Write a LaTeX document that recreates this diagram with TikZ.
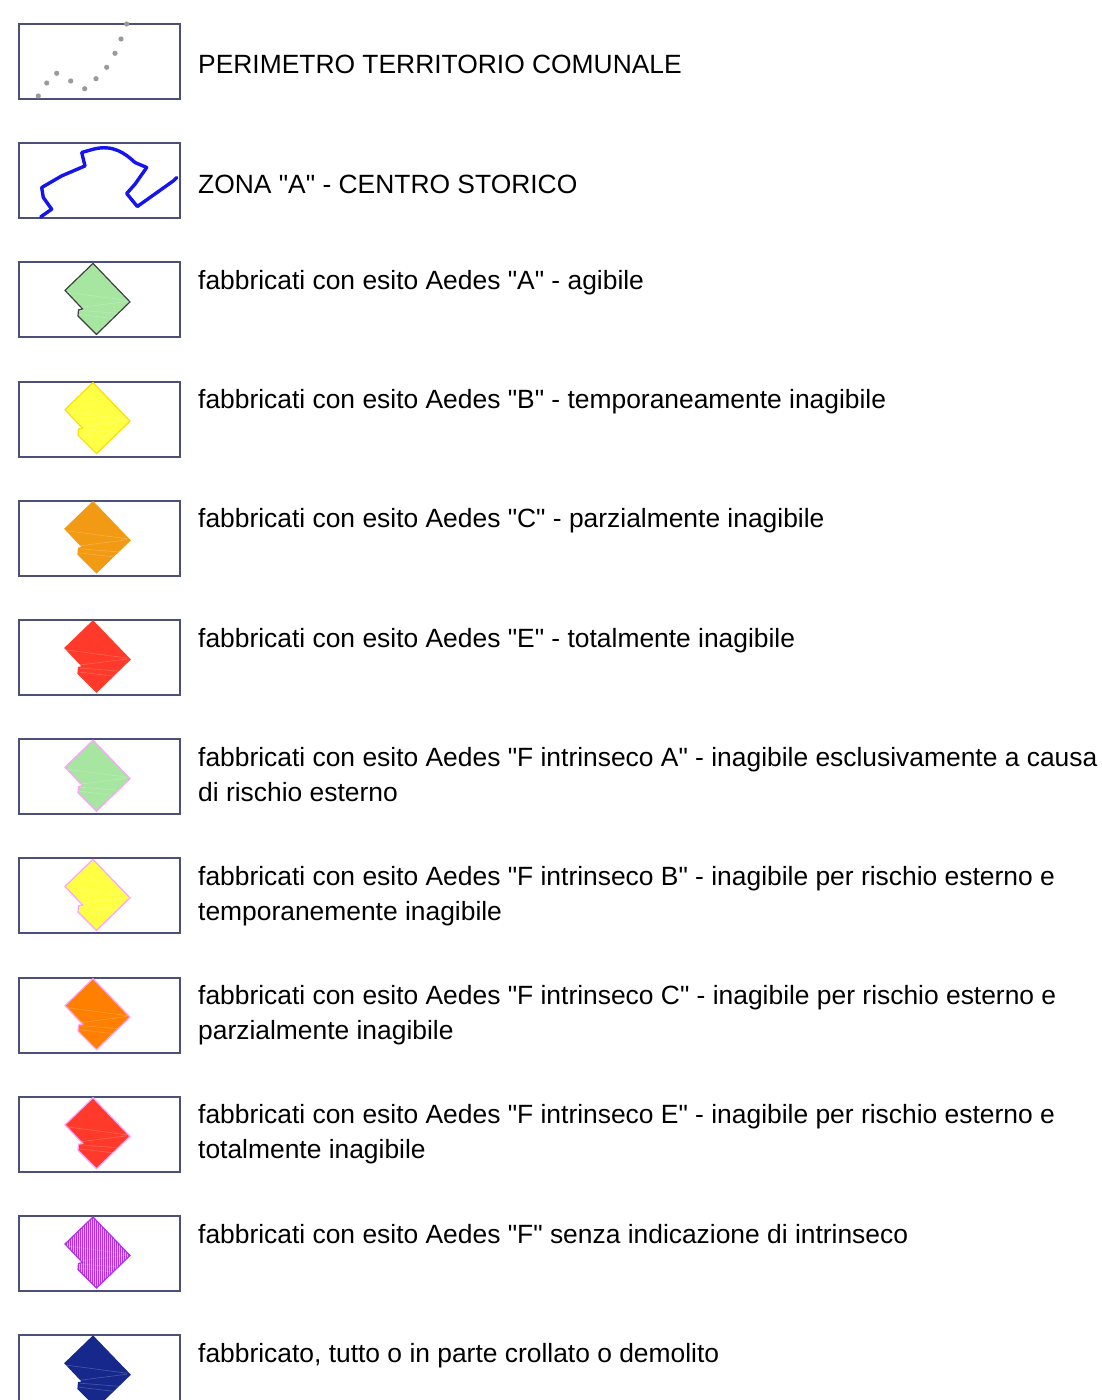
\documentclass[tikz,border=0pt]{standalone}
\usepackage{fontspec}
\setmainfont{Liberation Sans}[Ligatures=TeXOff]
\usetikzlibrary{patterns.meta}

\definecolor{cornice}{HTML}{4A5078}
\definecolor{puntini}{HTML}{9A9A9A}
\definecolor{zonaA}{HTML}{1414EE}
\definecolor{verdeA}{HTML}{A6E6A0}
\definecolor{gialloB}{HTML}{FFFF44}
\definecolor{aranC}{HTML}{F39A14}
\definecolor{rossoE}{HTML}{FF3A2A}
\definecolor{aranFC}{HTML}{FF8000}
\definecolor{rosa}{HTML}{FFA0FF}
\definecolor{violaF}{HTML}{E4A8FA}
\definecolor{violaL}{HTML}{B030E6}
\definecolor{crollo}{HTML}{16288C}

\newcommand{\sagoma}{(75,2) -- (112,40.5) -- (78.5,73) -- (60,54.5) -- (60.5,48.5) -- (64.5,47.5) -- (47,29) -- cycle}

\tikzset{
  riquadro/.style={draw=cornice, line width=2pt, minimum width=161pt,
    minimum height=75pt, inner sep=0pt, anchor=north west},
  voce/.style={anchor=base west, inner sep=0pt, align=left,
    font=\fontsize{26.4}{35}\selectfont},
  esitoA/.style={fill=verdeA, draw=black!75, line width=1.2pt},
  esitoB/.style={fill=gialloB, draw=yellow!80!orange, line width=1.2pt},
  esitoC/.style={fill=aranC, draw=aranC, line width=1.2pt},
  esitoE/.style={fill=rossoE, draw=rossoE, line width=1.2pt},
  esitoFA/.style={fill=verdeA, draw=rosa, line width=1.2pt},
  esitoFB/.style={fill=gialloB, draw=rosa, line width=1.2pt},
  esitoFC/.style={fill=aranFC, draw=rosa, line width=1.2pt},
  esitoFE/.style={fill=rossoE, draw=rosa, line width=1.2pt},
  esitoF/.style={fill=violaF, draw=violaL, line width=1.2pt,
    postaction={pattern={Lines[angle=90, distance=2pt, line width=0.9pt]},
      pattern color=violaL}},
  esitoX/.style={fill=crollo, draw=crollo, line width=1.2pt},
  tratteggio/.style={white, opacity=0.22, line width=0.6pt}
}

\begin{document}
\begin{tikzpicture}[x=1pt,y=-1pt]
    \useasboundingbox (0,0) rectangle (1102,1400);

    % perimetro comunale
    \node[riquadro] (b1) at (18,23) {};
    \begin{scope}[shift={(18,23)}]
        \foreach \px/\py in {20.3/73, 28.7/60, 38.7/50.3, 52.7/58, 66.7/65.7,
                             78/55.7, 88.7/44.3, 97/30.3, 103/16, 108.7/1}
            \fill[puntini] (\px,\py) circle (2.6pt);
    \end{scope}
    \node[voce] (t1) at (198,73.5) {PERIMETRO TERRITORIO COMUNALE};

    % zona A
    \node[riquadro] (b2) at (18,142.2) {};
    \begin{scope}[shift={(18,142.2)}]
        \draw[zonaA, line width=3.4pt, line join=round, line cap=round]
            (22.7,74.7) -- (33.7,67) -- (25.3,55.3) -- (23.7,45.3) -- (43.7,33.7)
            -- (67,23.7) -- (63.7,10.3) -- (75.3,7)
            .. controls (95,2) and (107,11) .. (117,20.3)
            -- (128.7,25.3) -- (117,42) -- (108.7,51.3) -- (119.3,64.3)
            -- (155.3,38.7) -- (158.7,35.3);
    \end{scope}
    \node[voce] (t2) at (198,193) {ZONA "A" - CENTRO STORICO};

    % esiti Aedes (\k = righe di testo)
    \foreach \n/\k/\st/\t in {
        2/1/esitoA/{fabbricati con esito Aedes "A" - agibile},
        3/1/esitoB/{fabbricati con esito Aedes "B" - temporaneamente inagibile},
        4/1/esitoC/{fabbricati con esito Aedes "C" - parzialmente inagibile},
        5/1/esitoE/{fabbricati con esito Aedes "E" - totalmente inagibile},
        6/2/esitoFA/{fabbricati con esito Aedes "F intrinseco A" - inagibile esclusivamente a causa\\di rischio esterno},
        7/2/esitoFB/{fabbricati con esito Aedes "F intrinseco B" - inagibile per rischio esterno e\\temporanemente inagibile},
        8/2/esitoFC/{fabbricati con esito Aedes "F intrinseco C" - inagibile per rischio esterno e\\parzialmente inagibile},
        9/2/esitoFE/{fabbricati con esito Aedes "F intrinseco E" - inagibile per rischio esterno e\\totalmente inagibile},
        10/1/esitoF/{fabbricati con esito Aedes "F" senza indicazione di intrinseco},
        11/1/esitoX/{fabbricato, tutto o in parte crollato o demolito}
    }
    {
        \pgfmathsetmacro{\yy}{23+119.2*\n}
        \pgfmathsetmacro{\yt}{\yy+28+35*(\k-1)}
        \node[riquadro] (b\n) at (18,\yy) {};
        \begin{scope}[shift={(18,\yy)}]
            \draw[\st] \sagoma;
            \draw[tratteggio] (49,31) -- (109,39) (62,46) -- (109,40)
                (62,49) -- (100,52) (61,53) -- (95,57);
        \end{scope}
        \node[voce] (t\n) at (198,\yt) {\t};
    };

\end{tikzpicture}
\end{document}
